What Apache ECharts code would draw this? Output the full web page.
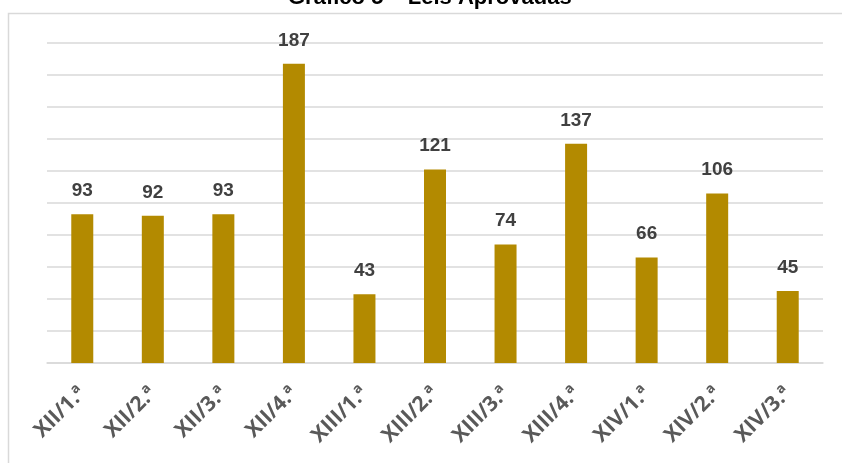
<!DOCTYPE html>
<html>
<head>
<meta charset="utf-8">
<script src="https://cdn.jsdelivr.net/npm/echarts@6/dist/echarts.min.js"></script>
<style>
html,body{margin:0;padding:0;background:#fff;}
#main{width:842px;height:463px;}
</style>
</head>
<body>
<div id="main"></div>
<script>
var categories = ['XII/1.ª', 'XII/2.ª', 'XII/3.ª', 'XII/4.ª', 'XIII/1.ª', 'XIII/2.ª', 'XIII/3.ª', 'XIII/4.ª', 'XIV/1.ª', 'XIV/2.ª', 'XIV/3.ª'];
var leis = [93, 92, 93, 187, 43, 121, 74, 137, 66, 106, 45];

var myChart = echarts.init(document.getElementById('main'));

option = {
    backgroundColor: '#fff',
    animation: false,
    graphic: [
        {
            type: 'rect',
            shape: { x: 8.5, y: 13.5, width: 900, height: 500 },
            style: { fill: 'none', stroke: '#d9d9d9', lineWidth: 1.5 }
        },
        {
            type: 'text',
            left: 288,
            top: -13,
            style: {
                text: 'Gráfico 5 – Leis Aprovadas',
                fontSize: 22,
                fontWeight: 'bold',
                fontFamily: 'Liberation Sans',
                fill: '#000'
            }
        }
    ],
    grid: {
        left: 47,
        right: 19,
        top: 43,
        bottom: 100
    },
    xAxis: {
        type: 'category',
        data: categories,
        axisLine: { lineStyle: { color: '#d9d9d9', width: 1.5 } },
        axisTick: { show: false },
        axisLabel: {
            rotate: 45,
            interval: 0,
            margin: 27,
            color: '#595959',
            fontSize: 21,
            fontWeight: 'bold',
            fontFamily: 'Open Sans'
        }
    },
    yAxis: {
        type: 'value',
        min: 0,
        max: 200,
        interval: 20,
        axisLabel: { show: false },
        axisLine: { show: false },
        axisTick: { show: false },
        splitLine: { lineStyle: { color: '#d9d9d9', width: 1.5 } }
    },
    series: [{
        type: 'bar',
        data: leis,
        barWidth: 22,
        itemStyle: { color: '#b38a00' },
        label: {
            show: true,
            position: 'top',
            distance: 14,
            color: '#404040',
            fontSize: 19,
            fontWeight: 'bold',
            fontFamily: 'Liberation Sans'
        }
    }]
};
myChart.setOption(option);
</script>
</body>
</html>
